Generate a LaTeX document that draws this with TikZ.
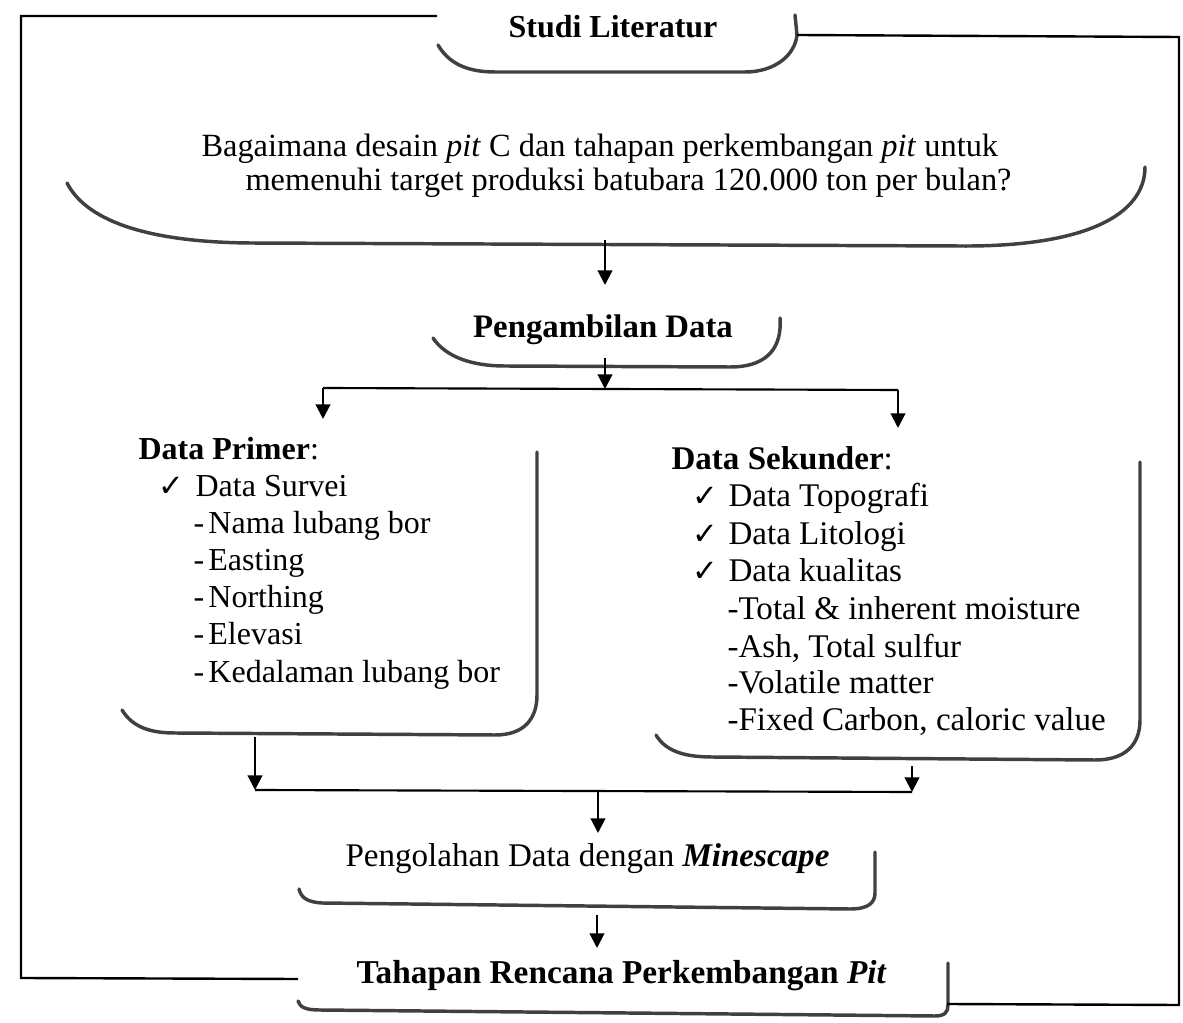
\documentclass[tikz,border=0pt]{standalone}
\usepackage{fontspec}
\setmainfont{Liberation Serif}
\newfontfamily\symfont{DejaVu Sans}
\usetikzlibrary{arrows.meta}
\newcommand{\chk}[1]{\makebox[#1][l]{\symfont\fontsize{11.5}{12}\selectfont ✓}}
\begin{document}
\begin{tikzpicture}[x=0.375pt,y=-0.375pt,
  shapeline/.style={line width=1.3pt,draw=black!75,line cap=round},
  frameline/.style={line width=0.9pt,draw=black},
  flow/.style={line width=0.8pt,-{Triangle[length=5.5pt,width=5.5pt]}},
  plain/.style={line width=0.8pt},
  txt/.style={inner sep=0pt,anchor=base west,font=\fontsize{12}{14}\selectfont},
  btxt/.style={txt,font=\fontsize{12}{14}\selectfont\bfseries}]
\useasboundingbox (0,0) rectangle (1183,1023);

% ---- Studi Literatur
\node[btxt,anchor=base] (studi) at (613,38) {Studi Literatur};
\draw[shapeline] (438,45) .. controls (448,62) and (465,72) .. (495,72) -- (745,72) .. controls (775,72) and (795,55) .. (797,35) -- (795,15);
\coordinate (studiL) at (437,16);
\coordinate (studiR) at (797,35);

% ---- Question
\node[txt,font=\fontsize{12.15}{14}\selectfont] (q1) at (201,157) {Bagaimana desain \textit{pit} C dan tahapan perkembangan \textit{pit} untuk};
\node[txt,font=\fontsize{12.15}{14}\selectfont] (q2) at (245,191) {memenuhi target produksi batubara 120.000 ton per bulan?};
\draw[shapeline] (67,183) .. controls (85,218) and (140,242) .. (250,243) -- (960,246) .. controls (1085,247) and (1145,215) .. (1145,167);
\coordinate (qB) at (605,240);

% ---- Pengambilan Data
\node[btxt,anchor=base,font=\fontsize{12.3}{14}\selectfont\bfseries] (ambil) at (603,338) {Pengambilan Data};
\coordinate (ambilT) at (605,285);
\draw[shapeline] (433,338) .. controls (445,356) and (470,366) .. (505,366) -- (730,367) .. controls (770,367) and (782,345) .. (780,318);
\coordinate (ambilB) at (605,358);
\coordinate (jM) at (605,389);
\coordinate (jL) at (323,388);
\coordinate (jR) at (898,390);
\draw[flow] (qB) -- (ambilT);
\draw[flow] (ambilB) -- (jM);
\draw[plain] (jL) -- (jR);

% ---- Data Primer
\coordinate (primT) at (323,419);
\node[txt] (p0) at (138,460) {\textbf{Data Primer}:};
\node[txt] (p1) at (158,497) {\chk{13.9pt}Data Survei};
\node[txt] (p2) at (193,534) {\makebox[5.6pt][l]{-}Nama lubang bor};
\node[txt] (p3) at (193,571) {\makebox[5.6pt][l]{-}Easting};
\node[txt] (p4) at (193,608) {\makebox[5.6pt][l]{-}Northing};
\node[txt] (p5) at (193,645) {\makebox[5.6pt][l]{-}Elevasi};
\node[txt] (p6) at (193,682) {\makebox[5.6pt][l]{-}Kedalaman lubang bor};
\draw[shapeline] (122,710) .. controls (132,726) and (148,733) .. (175,733) -- (495,735) .. controls (525,735) and (537,718) .. (537,695) -- (537,452);
\draw[flow] (jL) -- (primT);

% ---- Data Sekunder
\coordinate (sekT) at (898,428);
\tikzset{stxt/.style={txt,font=\fontsize{12.4}{14}\selectfont}}
\node[stxt] (s0) at (671,470) {\textbf{Data Sekunder}:};
\node[stxt] (s1) at (692,507) {\chk{13.5pt}Data Topografi};
\node[stxt] (s2) at (692,545) {\chk{13.5pt}Data Litologi};
\node[stxt] (s3) at (692,582) {\chk{13.5pt}Data kualitas};
\node[stxt] (s4) at (727,620) {-Total \& inherent moisture};
\node[stxt] (s5) at (727,657) {-Ash, Total sulfur};
\node[stxt] (s6) at (727,694) {-Volatile matter};
\node[stxt] (s7) at (727,731) {-Fixed Carbon, caloric value};
\draw[shapeline] (656,735) .. controls (665,750) and (682,757) .. (712,757) -- (1095,760) .. controls (1125,760) and (1140,745) .. (1140,720) -- (1140,462);
\draw[flow] (jR) -- (sekT);

% ---- merge
\coordinate (primB) at (255,737);
\coordinate (sekB) at (912,766);
\coordinate (kL) at (255,790);
\coordinate (kR) at (912,792);
\coordinate (kM) at (598,791);
\coordinate (olahT) at (598,833);
\draw[flow] (primB) -- (kL);
\draw[flow] (sekB) -- (kR);
\draw[plain] (kL) -- (kR);
\draw[flow] (kM) -- (olahT);

% ---- Pengolahan
\node[txt,font=\fontsize{12.4}{14}\selectfont] (olah) at (345,867) {Pengolahan Data dengan \textbf{\textit{Minescape}}};
\draw[shapeline] (299,889) .. controls (301,897) and (306,902) .. (322,903) -- (850,909) .. controls (868,909) and (875,903) .. (875,893) -- (875,852);
\coordinate (olahB) at (597,915);
\coordinate (tahT) at (597,948);
\draw[flow] (olahB) -- (tahT);

% ---- Tahapan
\node[btxt,font=\fontsize{12.5}{14}\selectfont\bfseries] (tah) at (356,983) {Tahapan Rencana Perkembangan \textit{Pit}};
\draw[shapeline] (298,1001) .. controls (300,1007) and (305,1010) .. (320,1010) -- (935,1016) .. controls (945,1016) and (948,1012) .. (948,1005) -- (948,963);
\coordinate (tahL) at (298,979);
\coordinate (tahR) at (947,1004);

% ---- feedback frame
\draw[frameline] (studiL) -- (21,16) -- (21,978) -- (tahL);
\draw[frameline] (studiR) -- (1179,37) -- (1179,1005) -- (tahR);
\end{tikzpicture}
\end{document}
